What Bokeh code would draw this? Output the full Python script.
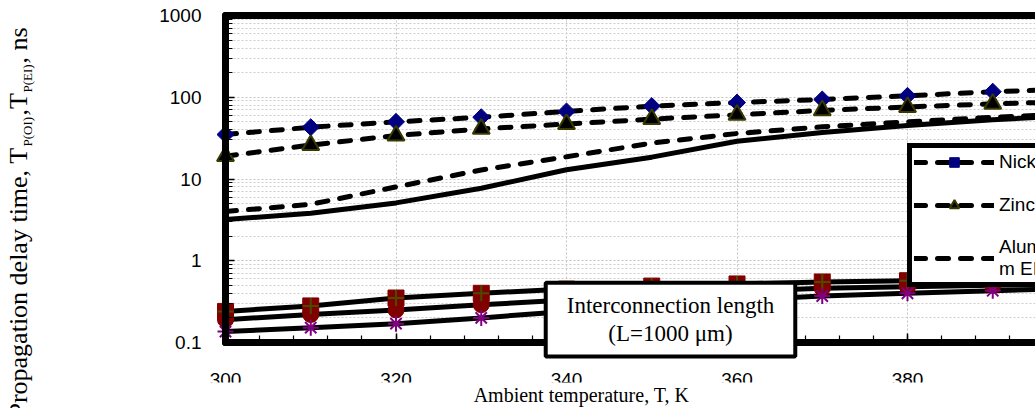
import math
from bokeh.plotting import figure
from bokeh.models import (FixedTicker, BasicTickFormatter, Label, Legend, LegendItem,
                          LinearAxis, Range1d, SingleIntervalTicker, BoxAnnotation)
from bokeh.embed import file_html
from bokeh.resources import INLINE

# ---------------- data ----------------
temps = [300, 310, 320, 330, 340, 350, 360, 370, 380, 390, 400]
nickel_ei = [35, 43, 50, 57, 67, 78, 86, 94, 104, 117, 126]
zinc_ei = [19, 26, 34, 41, 47, 54, 61, 69, 76, 83, 89]
aluminium_ei = [4.0, 4.9, 8.0, 12.9, 18.7, 27.5, 36, 43.5, 50, 57, 63]
aluminium_oi = [3.2, 3.8, 5.1, 7.7, 13.0, 18.5, 29, 37, 45, 53, 60]
square_oi = [0.24, 0.28, 0.35, 0.40, 0.45, 0.49, 0.52, 0.55, 0.57, 0.59, 0.61]
circle_oi = [0.19, 0.22, 0.25, 0.29, 0.33, 0.37, 0.42, 0.46, 0.48, 0.50, 0.52]
star_oi = [0.136, 0.152, 0.17, 0.20, 0.24, 0.28, 0.33, 0.37, 0.40, 0.43, 0.46]

x_start = 300
y_major = [0.1, 1, 10, 100, 1000]
legend_labels = ["Nickel EI", "Zinc EI", "Aluminiu\nm EI"]
annotation_text = "Interconnection length\n(L=1000 \u03bcm)"
x_title = "Ambient temperature, T, K"

# ---------------- layout (page pixels) ----------------
# The frame covers the whole canvas so that texts outside the plotting box are
# not clipped; the axes are pinned to the plotting box with fixed_location.
W, H = 1035, 408
BOX_L, BOX_B, BOX_T = 225, 342, 15
PX_PER_K = 170.5 / 20
PX_PER_DEC = (BOX_B - BOX_T) / 4
y_lo, y_hi = y_major[0], y_major[-1]
x_lo = x_start - BOX_L / PX_PER_K
x_hi = x_start + (W - BOX_L) / PX_PER_K
yr_lo = 10 ** (math.log10(y_lo) - (H - BOX_B) / PX_PER_DEC)
yr_hi = 10 ** (math.log10(y_hi) + BOX_T / PX_PER_DEC)


def scr(px, py):
    """page pixel -> screen units (frame == canvas, origin bottom-left)"""
    return px, H - py


p = figure(width=W, height=H, y_axis_type="log",
           x_range=Range1d(x_lo, x_hi), y_range=Range1d(yr_lo, yr_hi),
           output_backend="svg", toolbar_location=None,
           min_border_left=0, min_border_right=0, min_border_top=0, min_border_bottom=0)
p.outline_line_color = None
p.background_fill_color = "white"
p.border_fill_color = "white"

# axes pinned to the plotting box
minor_y = [m * 10 ** e for e in range(-1, 3) for m in range(2, 10)]
p.yaxis.ticker = FixedTicker(ticks=y_major, minor_ticks=minor_y)
p.yaxis.formatter = BasicTickFormatter()
p.xaxis.ticker = SingleIntervalTicker(interval=20, num_minor_ticks=5)
p.xaxis.fixed_location = y_lo
p.yaxis.fixed_location = x_start
p.xaxis.bounds = (x_start, x_hi)
p.yaxis.bounds = (y_lo, y_hi)
for ax in (p.xaxis[0], p.yaxis[0]):
    ax.axis_line_width = 7
    ax.axis_line_color = "black"
    ax.axis_line_cap = "round"
    ax.major_tick_in = 9
    ax.major_tick_out = 0
    ax.minor_tick_in = 7
    ax.minor_tick_out = 0
    ax.major_tick_line_width = 1.5
    ax.minor_tick_line_width = 1.2
    ax.major_label_text_font = "Liberation Sans"
    ax.major_label_text_font_size = "19px"
    ax.major_label_text_color = "black"
p.xaxis.major_label_standoff = 30
p.yaxis.major_label_standoff = 24

top = LinearAxis(ticker=FixedTicker(ticks=[]), fixed_location=y_hi, bounds=(x_start, x_hi),
                 axis_line_width=7, axis_line_color="black", axis_line_cap="round",
                 major_tick_in=0, major_tick_out=0, minor_tick_in=0, minor_tick_out=0,
                 major_label_standoff=0, major_label_text_font_size="0px")
p.add_layout(top, "above")

# grid, limited to the plotting box
for g in (p.xgrid[0], p.ygrid[0]):
    g.grid_line_color = "#c4c4c4"
    g.grid_line_dash = "2 2"
    g.grid_line_width = 1
p.ygrid.minor_grid_line_color = "#cccccc"
p.ygrid.minor_grid_line_dash = "2 2"
if "cross_bounds" in p.xgrid[0].properties():
    p.xgrid.cross_bounds = (y_lo, y_hi)
    p.ygrid.cross_bounds = (x_start, x_hi)
else:
    p.quad(left=[x_lo, x_lo, x_lo], right=[x_start, x_hi, x_hi],
           bottom=[yr_lo, yr_lo, y_hi], top=[yr_hi, y_lo, yr_hi],
           fill_color="white", line_color=None)

# ---------------- series ----------------
dash = dict(line_color="black", line_width=5, line_dash="11 12", line_cap="round")
solid = dict(line_color="black", line_width=5, line_join="round")

nl = p.line(temps, nickel_ei, **dash)
zl = p.line(temps, zinc_ei, **dash)
al = p.line(temps, aluminium_ei, **dash)
p.line(temps, aluminium_oi, **solid)
p.line(temps, square_oi, **solid)
p.line(temps, circle_oi, **solid)
p.line(temps, star_oi, **solid)

ns = p.scatter(temps, nickel_ei, marker="square", angle=math.pi / 4, size=12,
               fill_color="#000080", line_color="#000080")
zs = p.scatter(temps, zinc_ei, marker="triangle", size=17,
               fill_color="black", line_color="#3a3a00", line_width=2)
p.scatter(temps, circle_oi, marker="circle", size=16, fill_color="#800000", line_color="#800000")
p.scatter(temps, square_oi, marker="square", size=16, fill_color="#800000", line_color="#800000")
p.scatter(temps, square_oi, marker="cross", size=16, line_color="#4b4b00", line_width=2)
p.scatter(temps, star_oi, marker="asterisk", size=16, line_color="#800080", line_width=2)

# ---------------- legend ----------------
lx, ly = scr(907, 287)
legend = Legend(items=[LegendItem(label=legend_labels[0], renderers=[nl, ns]),
                       LegendItem(label=legend_labels[1], renderers=[zl, zs]),
                       LegendItem(label=legend_labels[2], renderers=[al])],
                location=(lx, ly), orientation="vertical",
                border_line_color="black", border_line_width=5, border_line_alpha=1,
                background_fill_color="white", background_fill_alpha=1,
                padding=2, spacing=19, glyph_width=80, glyph_height=24,
                label_standoff=5, label_height=20, margin=0,
                label_text_font="Liberation Sans", label_text_font_size="19px",
                label_text_line_height=1.15, label_text_color="black")
p.add_layout(legend)

# ---------------- texts ----------------
serif = "Liberation Serif"

# the axis-title strip hides the lower part of the x tick labels, as in the reference
p.add_layout(BoxAnnotation(left=45, right=W, bottom=0, top=H - 382,
                           left_units="screen", right_units="screen",
                           bottom_units="screen", top_units="screen",
                           fill_color="white", fill_alpha=1, line_color=None))

sx, sy = scr(581, 394)
p.add_layout(Label(x=sx, y=sy, x_units="screen", y_units="screen", text=x_title,
                   text_align="center", text_baseline="middle",
                   text_font=serif, text_font_size="20px", text_color="black"))

sx, sy = scr(670, 319)
p.add_layout(Label(x=sx, y=sy, x_units="screen", y_units="screen", text=annotation_text,
                   text_align="center", text_baseline="middle", text_line_height=1.15,
                   text_font=serif, text_font_size="23px", text_color="black",
                   background_fill_color="white", border_line_color="black",
                   border_line_width=4, padding=(21, 10)))

# y-axis title, composed of pieces so that the subscripts are real text
ylabel_parts = [
    ("Propagation delay time, T", 18, 147, "right", "26px"),
    ("P(OI)", 26.5, 146, "left", "13px"),
    (",T", 18, 115, "left", "26px"),
    ("P(EI)", 26.5, 92, "left", "13px"),
    (", ns", 18, 63, "left", "26px"),
]
for txt, px, py, align, size in ylabel_parts:
    sx, sy = scr(px, py)
    p.add_layout(Label(x=sx, y=sy, x_units="screen", y_units="screen", text=txt,
                       angle=math.pi / 2, text_align=align, text_baseline="middle",
                       text_font=serif, text_font_size=size, text_color="black"))

open("out.html", "w").write(file_html(p, INLINE))
